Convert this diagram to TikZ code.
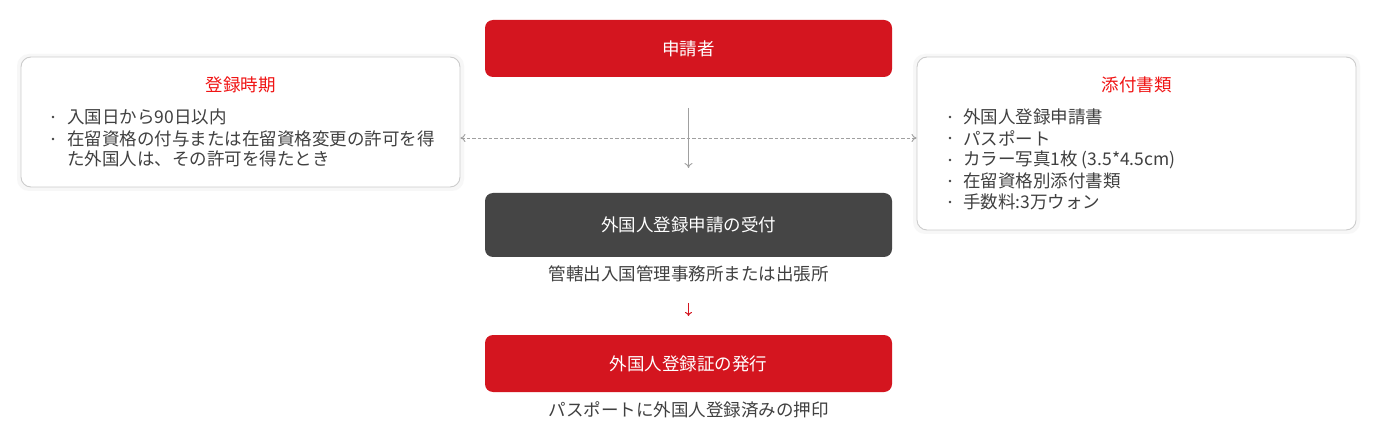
\documentclass[tikz,border=0pt]{standalone}
\usepackage{fontspec}
\setmainfont{Noto Sans CJK JP}
\usetikzlibrary{arrows.meta}
\definecolor{brandred}{HTML}{D4151F}
\definecolor{titlered}{HTML}{F01414}
\definecolor{darkbox}{HTML}{454545}
\definecolor{txt}{HTML}{404040}
\definecolor{linegray}{HTML}{A0A0A0}
\definecolor{bordergray}{HTML}{CCCCCC}
\tikzset{
  redbox/.style={draw=none, fill=brandred, rounded corners=8pt, text=white, minimum width=407pt, minimum height=57pt, inner sep=0pt, font=\fontsize{17.5}{21}\selectfont},
  graybox/.style={draw=none, fill=darkbox, rounded corners=8pt, text=white, minimum width=407pt, minimum height=64pt, inner sep=0pt, font=\fontsize{17.5}{21}\selectfont},
  infobox/.style={draw=bordergray, line width=0.9pt, fill=white, rounded corners=10pt, inner sep=0pt},
  title/.style={text=titlered, font=\fontsize{17.5}{21}\selectfont, inner sep=0pt},
  bodytext/.style={text=txt, font=\fontsize{17.5}{21}\selectfont, anchor=west, inner sep=0pt},
  bullet/.style={circle, fill=txt, minimum size=2.6pt, inner sep=0pt},
  sub/.style={text=txt, font=\fontsize{17.5}{21}\selectfont, inner sep=0pt},
  conn/.style={draw=linegray, line width=0.9pt},
}
\begin{document}
\begin{tikzpicture}[x=1pt,y=-1pt]
\path[use as bounding box, fill=white] (0,0) rectangle (1377,422);
% shadows
\fill[black!3, rounded corners=12pt] (17,54) rectangle (464,191);
\fill[black!3, rounded corners=12pt] (913,54) rectangle (1360,234);
% boxes
\node[redbox] (applicant) at (688.5,48.5) {申請者};
\node[infobox, minimum width=439pt, minimum height=130pt] (timing) at (240.5,122) {};
\node[infobox, minimum width=439pt, minimum height=173pt] (docs) at (1136.5,143.5) {};
\node[graybox] (reception) at (688.5,225) {外国人登録申請の受付};
\node[redbox] (issue) at (688.5,363.5) {外国人登録証の発行};
% left box text
\node[title] (ttitle) at (240.5,85) {登録時期};
\node[bullet] (tb1) at (53,117) {};
\node[bodytext] (tl1) at (67,117) {入国日から90日以内};
\node[bullet] (tb2) at (53,139) {};
\node[bodytext] (tl2) at (67,139) {在留資格の付与または在留資格変更の許可を得};
\node[bodytext] (tl3) at (67,159) {た外国人は、その許可を得たとき};
% right box text
\node[title] (dtitle) at (1136.5,85) {添付書類};
\node[bullet] (db1) at (950,117) {};
\node[bodytext] (dl1) at (963,117) {外国人登録申請書};
\node[bullet] (db2) at (950,138) {};
\node[bodytext] (dl2) at (963,138) {パスポート};
\node[bullet] (db3) at (950,160) {};
\node[bodytext] (dl3) at (963,160) {カラー写真1枚 (3.5*4.5cm)};
\node[bullet] (db4) at (950,181) {};
\node[bodytext] (dl4) at (963,181) {在留資格別添付書類};
\node[bullet] (db5) at (950,202) {};
\node[bodytext] (dl5) at (963,202) {手数料:3万ウォン};
% subtexts
\node[sub] (office) at (688.5,274) {管轄出入国管理事務所または出張所};
\node[sub] (stamp) at (688.5,410) {パスポートに外国人登録済みの押印};
% connectors
\coordinate (vtop) at (688.5,108);
\coordinate (vbot) at (688.5,168);
\draw[conn, -{To[length=5pt,width=8pt]}] (vtop) -- (vbot);
\draw[conn, dashed, dash pattern=on 3.5pt off 2pt, {To[length=5pt,width=8pt]}-{To[length=5pt,width=8pt]}] (timing.east |- 0,138) -- (docs.west |- 0,138);
\coordinate (rtop) at (688.5,303);
\coordinate (rbot) at (688.5,316);
\draw[brandred, line width=1pt, -{To[length=4pt,width=7pt]}] (rtop) -- (rbot);
\end{tikzpicture}
\end{document}
